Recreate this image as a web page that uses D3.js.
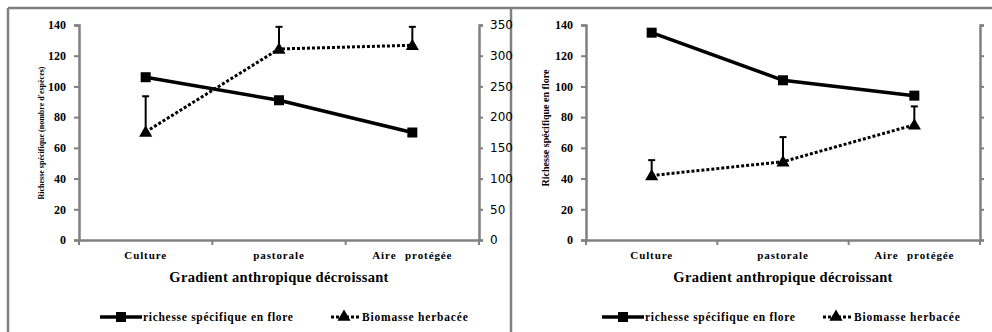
<!DOCTYPE html>
<html><head><meta charset="utf-8">
<script src="https://cdn.jsdelivr.net/npm/d3@7"></script>
<style>
html,body{margin:0;padding:0;background:#fff;}
svg{display:block;}
</style></head>
<body>
<svg id="chart" width="992" height="332"></svg>
<script>
// ---- data ----
const categories = ["Culture", "pastorale", "Aire protégée"];
const leftTicks = [0, 20, 40, 60, 80, 100, 120, 140];
const rightTicksA = [0, 50, 100, 150, 200, 250, 300, 350];
const rightTicksB = [0, 20, 40, 60, 80, 100, 120, 140];
const richesseA = [106, 91, 70];
const biomasseA = [176, 311, 317];
const biomasseErrA = [58, 36, 30];
const richesseB = [135, 104, 94];
const biomasseB = [42, 51, 75];
const biomasseErrB = [10, 16, 12];
const xTitle = "Gradient anthropique décroissant";
const legendLabels = ["richesse spécifique en flore", "Biomasse herbacée"];
const yTitleA = "Richesse spécifique (nombre d'espèces)";
const yTitleB = "Richesse spécifique en flore";

const SERIF = "'Liberation Serif', 'Times New Roman', serif";
const SANS = "'DejaVu Sans', 'Liberation Sans', sans-serif";
const svg = d3.select("#chart");
const gray = "#808080";

// panel frame
svg.append("line").attr("x1", 8).attr("x2", 992).attr("y1", 8).attr("y2", 8).attr("stroke", gray).attr("stroke-width", 2.5);
svg.append("line").attr("x1", 8).attr("x2", 8).attr("y1", 8).attr("y2", 332).attr("stroke", gray).attr("stroke-width", 2.5);
svg.append("line").attr("x1", 511).attr("x2", 511).attr("y1", 8).attr("y2", 332).attr("stroke", gray).attr("stroke-width", 2.5);

function txt(sel, size, weight, family) {
  return sel.style("font-family", family || SERIF).style("font-size", size + "px")
    .style("font-weight", weight || "normal").style("fill", "#000");
}

function drawPanel(opt) {
  const g = svg.append("g");
  const x = d3.scaleBand().domain(categories).range([opt.x0, opt.x1]);
  const yL = d3.scaleLinear().domain([0, 140]).range([240, 25]);
  const yR = d3.scaleLinear().domain([0, d3.max(opt.rightTicks)]).range([240, 25]);

  // left axis
  const axL = g.append("g").attr("transform", `translate(${opt.x0},0)`)
    .call(d3.axisLeft(yL).tickValues(leftTicks).tickSize(5).tickPadding(8));
  axL.select(".domain").attr("stroke", gray).attr("stroke-width", 2.5);
  axL.selectAll(".tick line").attr("stroke", gray).attr("stroke-width", 2);
  txt(axL.selectAll(".tick text"), 12, "bold");

  // right axis
  const axR = g.append("g").attr("transform", `translate(${opt.x1},0)`)
    .call(d3.axisRight(yR).tickValues(opt.rightTicks).tickSize(4).tickPadding(opt.rightPad));
  axR.select(".domain").attr("stroke", gray).attr("stroke-width", 2.5);
  axR.selectAll(".tick line").attr("stroke", gray).attr("stroke-width", 2);
  txt(axR.selectAll(".tick text"), 12, "normal", SANS);

  // x axis
  const axX = g.append("g").attr("transform", "translate(0,240)")
    .call(d3.axisBottom(x).tickSize(0).tickPadding(11));
  axX.select(".domain").attr("stroke", gray).attr("stroke-width", 2.5);
  txt(axX.selectAll(".tick text"), 11, "bold").attr("letter-spacing", 0.9).attr("word-spacing", 5);
  const edges = [opt.x0].concat(categories.map(c => x(c) + x.bandwidth()));
  g.selectAll(".xedge").data(edges).join("line")
    .attr("x1", d => d).attr("x2", d => d).attr("y1", 240).attr("y2", 245)
    .attr("stroke", gray).attr("stroke-width", 2);

  const cx = c => x(c) + x.bandwidth() / 2;

  // x title
  txt(g.append("text").attr("x", (opt.x0 + opt.x1) / 2).attr("y", 282)
    .attr("text-anchor", "middle").attr("letter-spacing", 0.3).text(xTitle), 14.5, "bold");

  // y title
  txt(g.append("text").attr("transform", `translate(${opt.yTitleX},${opt.yTitleMid}) rotate(-90)`)
    .attr("text-anchor", "middle").text(opt.yTitle), opt.yTitleSize, "bold");

  // biomasse (dashed) with error bars
  const yB = opt.biomasseOnLeft ? yL : yR;
  opt.biomasse.forEach((v, i) => {
    const c = categories[i];
    const top = yB(v + opt.biomasseErr[i]);
    g.append("line").attr("x1", cx(c)).attr("x2", cx(c)).attr("y1", yB(v)).attr("y2", top)
      .attr("stroke", "#000").attr("stroke-width", 2);
    g.append("line").attr("x1", cx(c) - 3.5).attr("x2", cx(c) + 3.5).attr("y1", top).attr("y2", top)
      .attr("stroke", "#000").attr("stroke-width", 2);
  });
  const lineB = d3.line().x((d, i) => cx(categories[i])).y(d => yB(d));
  g.append("path").datum(opt.biomasse).attr("d", lineB).attr("fill", "none")
    .attr("stroke", "#000").attr("stroke-width", 3).attr("stroke-dasharray", "3,2");
  const tri = d3.symbol().type(d3.symbolTriangle).size(75);
  g.selectAll(".tri").data(opt.biomasse).join("path")
    .attr("d", tri).attr("transform", (d, i) => `translate(${cx(categories[i])},${yB(d) + 1})`).attr("fill", "#000");

  // richesse (solid)
  const lineA = d3.line().x((d, i) => cx(categories[i])).y(d => yL(d));
  g.append("path").datum(opt.richesse).attr("d", lineA).attr("fill", "none")
    .attr("stroke", "#000").attr("stroke-width", 3.5);
  g.selectAll(".sq").data(opt.richesse).join("rect")
    .attr("x", (d, i) => cx(categories[i]) - 5).attr("y", d => yL(d) - 5)
    .attr("width", 10).attr("height", 10).attr("fill", "#000");

  // legend
  const ly = 317;
  const l1 = opt.legendX;
  g.append("line").attr("x1", l1).attr("x2", l1 + 42).attr("y1", ly).attr("y2", ly).attr("stroke", "#000").attr("stroke-width", 3.5);
  g.append("rect").attr("x", l1 + 16).attr("y", ly - 5).attr("width", 10).attr("height", 10).attr("fill", "#000");
  txt(g.append("text").attr("x", l1 + 43).attr("y", ly + 4).attr("letter-spacing", 0.7).text(legendLabels[0]), 11.5, "bold");
  const l2 = opt.legend2X;
  g.append("line").attr("x1", l2).attr("x2", l2 + 28).attr("y1", ly).attr("y2", ly).attr("stroke", "#000").attr("stroke-width", 3).attr("stroke-dasharray", "3,2");
  g.append("path").attr("d", tri).attr("transform", `translate(${l2 + 13},${ly})`).attr("fill", "#000");
  txt(g.append("text").attr("x", l2 + 31).attr("y", ly + 4).attr("letter-spacing", 0.8).text(legendLabels[1]), 11.5, "bold");
}

drawPanel({
  x0: 79, x1: 479, rightTicks: rightTicksA, rightPad: 7,
  richesse: richesseA, biomasse: biomasseA, biomasseErr: biomasseErrA, biomasseOnLeft: false,
  yTitle: yTitleA, yTitleX: 44, yTitleMid: 133, yTitleSize: 8,
  legendX: 100, legend2X: 331
});
drawPanel({
  x0: 586, x1: 980, rightTicks: rightTicksB, rightPad: 9,
  richesse: richesseB, biomasse: biomasseB, biomasseErr: biomasseErrB, biomasseOnLeft: true,
  yTitle: yTitleB, yTitleX: 549, yTitleMid: 128, yTitleSize: 10,
  legendX: 602, legend2X: 823
});
</script>
</body></html>
